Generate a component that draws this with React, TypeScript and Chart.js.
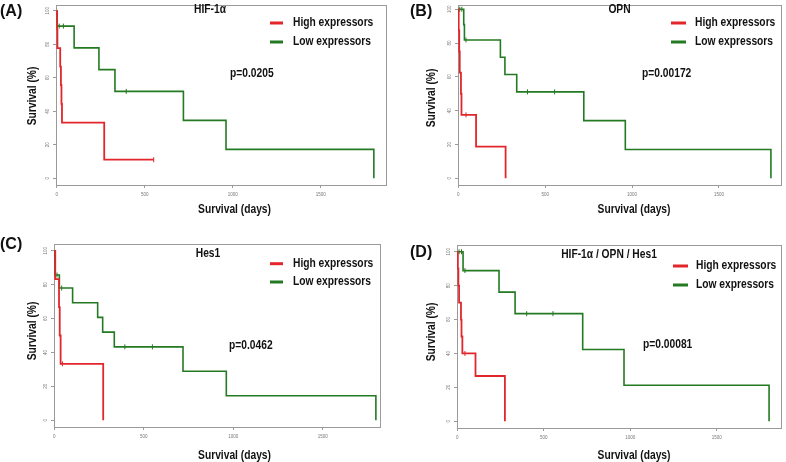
import { useEffect, useRef } from "react";
import { Chart, registerables } from "chart.js";

Chart.register(...registerables);

// ---------------- data ----------------
const xTickValues = [0, 500, 1000, 1500];
const yTickValues = [0, 20, 40, 60, 80, 100];
const seriesLabels = ["High expressors", "Low expressors"];
const panelLetters = ["(A)", "(B)", "(C)", "(D)"];
const panelTitles = ["HIF-1\u03b1", "OPN", "Hes1", "HIF-1\u03b1 / OPN / Hes1"];
const pValues = ["p=0.0205", "p=0.00172", "p=0.0462", "p=0.00081"];
const xAxisTitle = "Survival (days)";
const yAxisTitle = "Survival (%)";

// (A) HIF-1α
const hifHighDays = [0, 2, 4, 20, 24, 27, 30, 270, 551];
const hifHighSurv = [100, 88.9, 77.8, 66.7, 55.6, 44.4, 33.3, 11.1, 11.1];
const hifHighCensor = [551];
const hifLowDays = [0, 3, 99, 240, 331, 720, 962, 1802];
const hifLowSurv = [100, 90.9, 77.9, 64.9, 51.9, 34.6, 17.3, 0];
const hifLowCensor = [14, 38, 395];

// (B) OPN
const opnHighDays = [0, 2, 5, 8, 15, 18, 102, 272];
const opnHighSurv = [100, 87.5, 75, 62.5, 50, 37.5, 18.75, 0];
const opnHighCensor = [44];
const opnLowDays = [0, 31, 35, 242, 268, 336, 722, 961, 1799];
const opnLowSurv = [100, 90.9, 81.8, 71.6, 61.4, 51.1, 34.1, 17.0, 0];
const opnLowCensor = [8, 20, 44, 398, 554];

// (C) Hes1
const hesHighDays = [0, 5, 26, 30, 35, 273];
const hesHighSurv = [100, 83.3, 66.7, 50, 33.3, 0];
const hesHighCensor = [45];
const hesLowDays = [0, 1, 3, 28, 102, 242, 270, 335, 719, 961, 1797];
const hesLowSurv = [100, 92.9, 85.7, 78.0, 69.3, 60.7, 52.0, 43.3, 28.9, 14.4, 0];
const hesLowCensor = [15, 41, 394, 548];

// (D) HIF-1α / OPN / Hes1
const comboHighDays = [0, 3, 6, 10, 21, 24, 29, 105, 275];
const comboHighSurv = [100, 90, 80, 70, 60, 50, 40, 26.7, 0];
const comboHighCensor = [44];
const comboLowDays = [0, 33, 241, 334, 725, 964, 1803];
const comboLowSurv = [100, 88.9, 76.2, 63.5, 42.3, 21.2, 0];
const comboLowCensor = [10, 24, 44, 401, 553];

// ---------------- styling / layout ----------------
const FONT = "'Liberation Sans', Arial, Helvetica, sans-serif";
const RED = "#e3262b";
const GREEN = "#237a23";
const BOX = "#9a9a9a";
const TEXT = "#111111";
const W = 393;
const H = 231;

type Layout = {
  left: number; right: number; top: number; bottom: number;
  xMin: number; xMax: number; yMax: number;
  letter: [number, number]; title: [number, number];
  legend: { x1: number; x2: number; tx: number; y1: number; y2: number };
  p: [number, number]; yTitle: [number, number]; xTitle: [number, number];
  pos: [number, number];
};

const layouts: Layout[] = [
  { left: 56, right: 386, top: 3, bottom: 185, xMin: -4, xMax: 1871, yMax: 103.5,
    letter: [0, 12], title: [210, 10], legend: { x1: 270, x2: 283, tx: 293, y1: 23, y2: 42 },
    p: [230, 74], yTitle: [33, 96], xTitle: [234.5, 210], pos: [0, 0] },
  { left: 65, right: 388, top: 3, bottom: 185, xMin: -2, xMax: 1857, yMax: 102.5,
    letter: [17, 12], title: [226.5, 10], legend: { x1: 278, x2: 293, tx: 302, y1: 23, y2: 42 },
    p: [249, 74], yTitle: [39, 98], xTitle: [241, 210], pos: [393, 0] },
  { left: 54, right: 380, top: 13, bottom: 196, xMin: -2, xMax: 1820, yMax: 104,
    letter: [0, 14], title: [208, 22.7], legend: { x1: 270, x2: 283, tx: 293, y1: 32.7, y2: 51 },
    p: [229, 114.3], yTitle: [33, 100], xTitle: [234.5, 225], pos: [0, 231] },
  { left: 64, right: 392, top: 14, bottom: 197, xMin: -2, xMax: 1872, yMax: 104,
    letter: [17, 22], title: [216, 24], legend: { x1: 280, x2: 295, tx: 303, y1: 35, y2: 54 },
    p: [250, 113.3], yTitle: [39, 101], xTitle: [241, 225], pos: [393, 231] },
];

const panelSeries = [
  { hd: hifHighDays, hs: hifHighSurv, hc: hifHighCensor, ld: hifLowDays, ls: hifLowSurv, lc: hifLowCensor },
  { hd: opnHighDays, hs: opnHighSurv, hc: opnHighCensor, ld: opnLowDays, ls: opnLowSurv, lc: opnLowCensor },
  { hd: hesHighDays, hs: hesHighSurv, hc: hesHighCensor, ld: hesLowDays, ls: hesLowSurv, lc: hesLowCensor },
  { hd: comboHighDays, hs: comboHighSurv, hc: comboHighCensor, ld: comboLowDays, ls: comboLowSurv, lc: comboLowCensor },
];

function survAt(days: number[], surv: number[], t: number) {
  let v = surv[0];
  for (let i = 0; i < days.length; i++) if (days[i] <= t) v = surv[i];
  return v;
}

function drawText(ctx: CanvasRenderingContext2D, text: string, x: number, y: number,
  size: number, align: CanvasTextAlign, sx: number, rotate = 0) {
  ctx.save();
  ctx.translate(x, y);
  if (rotate) ctx.rotate(rotate);
  ctx.scale(sx, 1);
  ctx.font = `bold ${size}px ${FONT}`;
  ctx.fillStyle = TEXT;
  ctx.textAlign = align;
  ctx.textBaseline = "middle";
  ctx.fillText(text, 0, 0);
  ctx.restore();
}

function KMPanel({ idx }: { idx: number }) {
  const ref = useRef<HTMLCanvasElement>(null);
  useEffect(() => {
    const L = layouts[idx];
    const s = panelSeries[idx];
    const line = (d: number[], v: number[]) => d.map((x, i) => ({ x, y: v[i] }));
    const cens = (c: number[], d: number[], v: number[]) => c.map((x) => ({ x, y: survAt(d, v, x) }));

    const decor = {
      id: "kmDecor",
      beforeDatasetsDraw(chart: any) {
        const { ctx, chartArea: ca } = chart;
        ctx.save();
        ctx.strokeStyle = BOX;
        ctx.lineWidth = 1;
        ctx.strokeRect(Math.round(ca.left) + 0.5, Math.round(ca.top) + 0.5,
          Math.round(ca.right - ca.left), Math.round(ca.bottom - ca.top));
        ctx.restore();
      },
      afterDraw(chart: any) {
        const { ctx, chartArea: ca } = chart;
        const ys = chart.scales.y;
        // rotated y tick labels (R style)
        ys.ticks.forEach((t: any) => {
          const py = ys.getPixelForValue(t.value);
          ctx.save();
          ctx.translate(ca.left - 8, py);
          ctx.rotate(-Math.PI / 2);
          ctx.font = `4.5px ${FONT}`;
          ctx.fillStyle = "#777";
          ctx.textAlign = "center";
          ctx.textBaseline = "middle";
          ctx.fillText(String(t.value), 0, 0);
          ctx.restore();
        });
        // panel letter
        drawText(ctx, panelLetters[idx], L.letter[0], L.letter[1], 16, "left", 1);
        // title
        drawText(ctx, panelTitles[idx], L.title[0], L.title[1], 12.5, "center", 0.82);
        // legend
        const lg = L.legend;
        const colors = [RED, GREEN];
        [lg.y1, lg.y2].forEach((yy, i) => {
          ctx.save();
          ctx.strokeStyle = colors[i];
          ctx.lineWidth = 3;
          ctx.beginPath();
          ctx.moveTo(lg.x1, yy);
          ctx.lineTo(lg.x2, yy);
          ctx.stroke();
          ctx.restore();
          drawText(ctx, chart.data.datasets[i].label, lg.tx, yy, 12.5, "left", 0.82);
        });
        // p value
        drawText(ctx, pValues[idx], L.p[0], L.p[1], 12.5, "left", 0.82);
        // axis titles
        drawText(ctx, xAxisTitle, L.xTitle[0], L.xTitle[1], 12.5, "center", 0.82);
        drawText(ctx, yAxisTitle, L.yTitle[0], L.yTitle[1], 12.5, "center", 0.82, -Math.PI / 2);
      },
    };

    const chart = new Chart(ref.current as HTMLCanvasElement, {
      type: "line",
      data: {
        datasets: [
          { label: seriesLabels[0], data: line(s.hd, s.hs), stepped: true, borderColor: RED,
            borderWidth: 1.8, pointRadius: 0, fill: false },
          { label: seriesLabels[1], data: line(s.ld, s.ls), stepped: true, borderColor: GREEN,
            borderWidth: 1.6, pointRadius: 0, fill: false },
          { label: "High censored", data: cens(s.hc, s.hd, s.hs), showLine: false, borderColor: RED,
            pointStyle: "line", rotation: 90, pointRadius: 2.5, pointBorderWidth: 1, borderWidth: 1 },
          { label: "Low censored", data: cens(s.lc, s.ld, s.ls), showLine: false, borderColor: GREEN,
            pointStyle: "line", rotation: 90, pointRadius: 2.5, pointBorderWidth: 1, borderWidth: 1 },
        ],
      } as any,
      options: {
        responsive: false,
        animation: false,
        devicePixelRatio: 1,
        events: [],
        layout: { padding: { left: 0, top: L.top, right: W - L.right, bottom: 0 } },
        plugins: { legend: { display: false }, tooltip: { enabled: false }, title: { display: false } },
        scales: {
          x: {
            type: "linear",
            min: L.xMin,
            max: L.xMax,
            afterBuildTicks: (sc: any) => { sc.ticks = xTickValues.map((v) => ({ value: v })); },
            afterFit: (sc: any) => { sc.height = H - L.bottom; },
            grid: { display: true, drawOnChartArea: false, drawTicks: true, tickLength: 3, color: BOX },
            border: { display: true, color: BOX },
            ticks: {
              font: { size: 4.5, family: FONT }, color: "#777", padding: 4, maxRotation: 0, autoSkip: false,
              callback: (v: any) => String(v),
            },
          },
          y: {
            type: "linear",
            min: -4,
            max: L.yMax,
            afterBuildTicks: (sc: any) => { sc.ticks = yTickValues.map((v) => ({ value: v })); },
            afterFit: (sc: any) => { sc.width = L.left; },
            grid: { display: true, drawOnChartArea: false, drawTicks: true, tickLength: 3, color: BOX },
            border: { display: true, color: BOX },
            ticks: { display: false },
          },
        },
      } as any,
      plugins: [decor],
    });
    return () => chart.destroy();
  }, [idx]);
  const L = layouts[idx];
  return (
    <canvas
      ref={ref}
      width={W}
      height={H}
      style={{ position: "absolute", left: L.pos[0], top: L.pos[1], width: W, height: H }}
    />
  );
}

export default function App() {
  return (
    <div style={{ position: "fixed", left: 0, top: 0, width: 786, height: 462, background: "#fff" }}>
      {layouts.map((_, i) => (
        <KMPanel key={i} idx={i} />
      ))}
    </div>
  );
}
